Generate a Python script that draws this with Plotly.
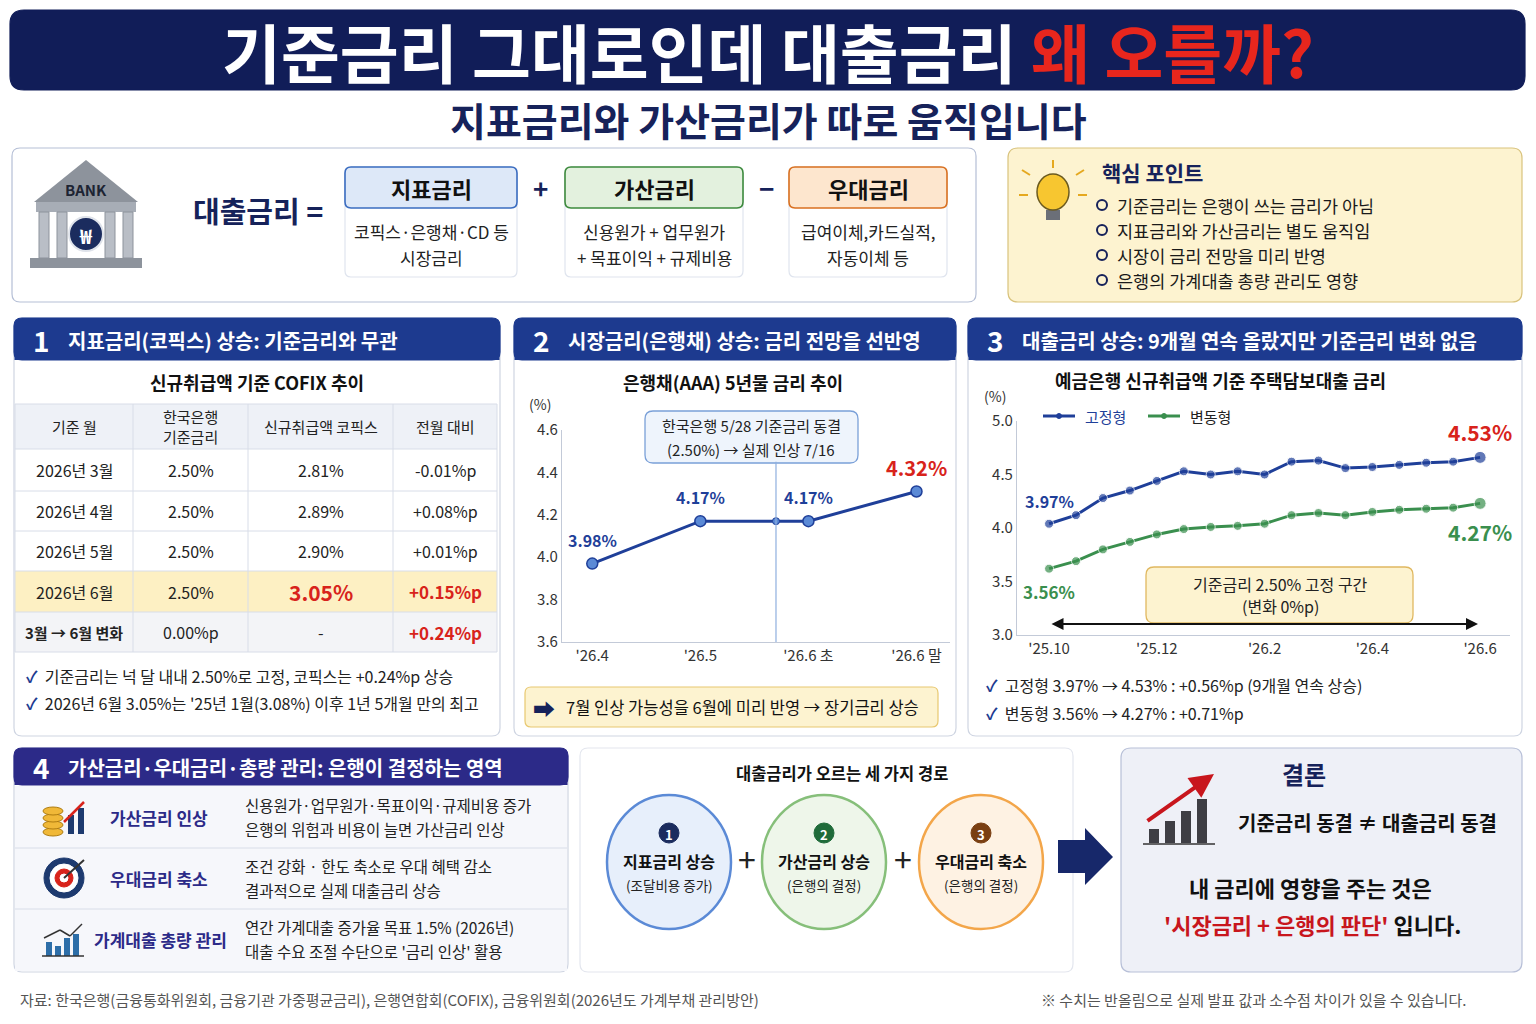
import plotly.graph_objects as go

W, H = 1536, 1024
FONT = "Noto Sans CJK KR"
NAVY = "#16225a"

# ---------------- data ----------------
bond_x = [0, 1, 2, 3]
bond_labels = ["'26.4", "'26.5", "'26.6 초", "'26.6 말"]
bond_rate = [3.97, 4.17, 4.17, 4.31]
bond_text = ["3.98%", "4.17%", "4.17%", "4.32%"]
freeze_x = 1.7
freeze_y = 4.17

mort_idx = list(range(17))
mort_tick_pos = [0, 4, 8, 12, 16]
mort_tick_text = ["'25.10", "'25.12", "'26.2", "'26.4", "'26.6"]
mort_fixed = [4.04, 4.12, 4.28, 4.35, 4.44, 4.53, 4.50, 4.53, 4.50, 4.62, 4.63, 4.56, 4.57, 4.59, 4.61, 4.62, 4.66]
mort_var = [3.62, 3.69, 3.80, 3.87, 3.94, 3.99, 4.01, 4.02, 4.04, 4.12, 4.14, 4.12, 4.15, 4.17, 4.18, 4.19, 4.23]

cofix_header = ["기준 월", "한국은행<br>기준금리", "신규취급액 코픽스", "전월 대비"]
cofix_month = ["2026년 3월", "2026년 4월", "2026년 5월", "2026년 6월", "3월 → 6월 변화"]
cofix_base = ["2.50%", "2.50%", "2.50%", "2.50%", "0.00%p"]
cofix_rate = ["2.81%", "2.89%", "2.90%", "3.05%", "-"]
cofix_diff = ["-0.01%p", "+0.08%p", "+0.01%p", "+0.15%p", "+0.24%p"]

# ---------------- helpers ----------------
def X(px): return px / W
def Y(py): return 1 - py / H

shapes, ann = [], []

def rr(x0, y0, x1, y1, r=8, fill="white", line="#c8cfdc", lw=1.2):
    p = (f"M{X(x0+r)},{Y(y0)} L{X(x1-r)},{Y(y0)} Q{X(x1)},{Y(y0)} {X(x1)},{Y(y0+r)} "
         f"L{X(x1)},{Y(y1-r)} Q{X(x1)},{Y(y1)} {X(x1-r)},{Y(y1)} L{X(x0+r)},{Y(y1)} "
         f"Q{X(x0)},{Y(y1)} {X(x0)},{Y(y1-r)} L{X(x0)},{Y(y0+r)} Q{X(x0)},{Y(y0)} {X(x0+r)},{Y(y0)} Z")
    shapes.append(dict(type="path", path=p, xref="paper", yref="paper", fillcolor=fill,
                       line=dict(color=line, width=lw), layer="below"))

def rect(x0, y0, x1, y1, fill="white", line=None, lw=1, layer="below"):
    shapes.append(dict(type="rect", xref="paper", yref="paper", x0=X(x0), x1=X(x1), y0=Y(y1), y1=Y(y0),
                       fillcolor=fill, line=dict(color=line or fill, width=lw if line else 0), layer=layer))

def line(x0, y0, x1, y1, color="#d5dae6", w=1, dash=None):
    shapes.append(dict(type="line", xref="paper", yref="paper", x0=X(x0), x1=X(x1), y0=Y(y0), y1=Y(y1),
                       line=dict(color=color, width=w, dash=dash)))

def circ(cx, cy, rx, ry, fill="white", lc="#888", lw=1):
    shapes.append(dict(type="circle", xref="paper", yref="paper", x0=X(cx-rx), x1=X(cx+rx), y0=Y(cy+ry), y1=Y(cy-ry),
                       fillcolor=fill, line=dict(color=lc, width=lw)))

def poly(pts, fill, lc=None, lw=0):
    p = "M" + " L".join(f"{X(a)},{Y(b)}" for a, b in pts) + " Z"
    shapes.append(dict(type="path", path=p, xref="paper", yref="paper", fillcolor=fill,
                       line=dict(color=lc or fill, width=lw)))

def T(px, py, s, size=15, color="#222", bold=False, anchor="center"):
    ann.append(dict(x=X(px), y=Y(py), xref="paper", yref="paper", text=f"<b>{s}</b>" if bold else s,
                    showarrow=False, xanchor=anchor, yanchor="middle",
                    font=dict(family=FONT, size=size, color=color)))

def arrow(hx, hy, tx, ty, color, w, both=False):
    d = dict(x=X(hx), y=Y(hy), xref="paper", yref="paper", axref="pixel", ayref="pixel",
             ax=tx - hx, ay=ty - hy, text="", showarrow=True, arrowhead=2, arrowsize=1.2,
             arrowwidth=w, arrowcolor=color)
    if both:
        d.update(startarrowhead=2, arrowside="end+start", startarrowsize=1.2)
    ann.append(d)

# ---------------- title ----------------
rr(10, 10, 1525, 90, r=14, fill="#111d58", line="#111d58")
T(768, 50, "기준금리 그대로인데 대출금리 <span style='color:#e8261d'>왜 오를까?</span>", 64, "white", True)
T(768, 119, "지표금리와 가산금리가 따로 움직입니다", 39, NAVY, True)

# ---------------- formula panel ----------------
rr(12, 148, 976, 302, r=8, fill="white", line="#b5bfd6")
poly([(34, 202), (86, 160), (138, 202)], "#8d939c")
T(86, 189, "BANK", 15, "#1d2433", True)
rect(36, 202, 136, 212, "#a7adb6")
for cx in (44, 62, 110, 128):
    rect(cx - 5, 212, cx + 5, 258, "#b9bec6", "#8d939c")
rect(30, 258, 142, 268, "#8d939c")
circ(86, 234, 17, 17, "#1b2c5e", "#dfe3ea", 2)
T(86, 235, "<b>₩</b>", 20, "white")
T(258, 210, "대출금리 =", 29, NAVY, True)
boxes = [(345, 517, "지표금리", "#dde8f8", "#3a6cc0", ["코픽스·은행채·CD 등", "시장금리"]),
         (565, 743, "가산금리", "#e3f1de", "#3d8a3d", ["신용원가 + 업무원가", "+ 목표이익 + 규제비용"]),
         (789, 947, "우대금리", "#fde6ce", "#d97020", ["급여이체,카드실적,", "자동이체 등"])]
for x0, x1, t, f, c, body in boxes:
    rr(x0, 167, x1, 277, r=6, fill="white", line="#dfe4ee")
    rr(x0, 167, x1, 208, r=6, fill=f, line=c, lw=1.6)
    T((x0 + x1) / 2, 188, t, 22, "#111", True)
    T((x0 + x1) / 2, 231, body[0], 17, "#222")
    T((x0 + x1) / 2, 257, body[1], 17, "#222")
T(540, 187, "+", 26, NAVY, True)
T(766, 187, "−", 26, NAVY, True)

# ---------------- key point panel ----------------
rr(1008, 148, 1522, 302, r=10, fill="#fdf3d0", line="#d9c37d")
circ(1053, 192, 16, 18, "#f7c630", "#6b5a1f", 1.5)
rect(1046, 210, 1060, 220, "#6b6f78")
for a, b, c, d in [(1030, 175, 1022, 170), (1076, 175, 1084, 170), (1053, 168, 1053, 160), (1028, 195, 1019, 195), (1078, 195, 1087, 195)]:
    line(a, b, c, d, "#e5a81f", 2)
T(1100, 172, "핵심 포인트", 21, NAVY, True, "left")
pts = ["기준금리는 은행이 쓰는 금리가 아님", "지표금리와 가산금리는 별도 움직임",
       "시장이 금리 전망을 미리 반영", "은행의 가계대출 총량 관리도 영향"]
for i, s in enumerate(pts):
    yy = 205 + 25 * i
    circ(1102, yy, 5, 5, "#fdf3d0", NAVY, 2)
    T(1115, yy, s, 17.5, "#1a1a1a", False, "left")

# ---------------- section panels ----------------
def section(x0, x1, num, title, y0=318, y1=736, hb=360, col="#1d3a8f"):
    rr(x0, y0, x1, y1, r=8, fill="white", line="#cfd5e2")
    rr(x0, y0, x1, hb, r=8, fill=col, line=col)
    rect(x0 + 0.5, hb - 10, x1 - 0.5, hb, col)
    T(x0 + 27, (y0 + hb) / 2 + 1, num, 28, "white", True)
    T(x0 + 52, (y0 + hb) / 2 + 1, title, 20, "white", True, "left")

section(14, 500, "1", "지표금리(코픽스) 상승: 기준금리와 무관")
section(514, 956, "2", "시장금리(은행채) 상승: 금리 전망을 선반영")
section(968, 1522, "3", "대출금리 상승: 9개월 연속 올랐지만 기준금리 변화 없음")

# ---- table (section 1)
T(257, 382, "신규취급액 기준 COFIX 추이", 18, "#111", True)
cols = [15, 133, 248, 393, 497]
rows = [404, 449, 491, 531, 571, 612, 652]
rect(15, 404, 497, 449, "#eef1f7")
rect(15, 571, 497, 612, "#fdf0c3")
rect(15, 612, 497, 652, "#f3f4f7")
for r in rows:
    line(15, r, 497, r, "#d8dde8", 1)
for c in cols:
    line(c, 404, c, 652, "#d8dde8", 1)
for j, h in enumerate(cofix_header):
    T((cols[j] + cols[j + 1]) / 2, 426, h, 15, "#222")
for i in range(5):
    yc = (rows[i + 1] + rows[i + 2]) / 2
    vals = [cofix_month[i], cofix_base[i], cofix_rate[i], cofix_diff[i]]
    for j, v in enumerate(vals):
        size, color, bold = 16, "#222", False
        if i == 3 and j == 2:
            size, color, bold = 21, "#d8231b", True
        elif i in (3, 4) and j == 3:
            color, bold, size = "#d8231b", True, 17
        elif i == 4 and j == 0:
            size, bold = 15, True
        T((cols[j] + cols[j + 1]) / 2, yc, v, size, color, bold)
T(24, 676, "<span style='color:#1d3a8f'><b>✓</b></span>  기준금리는 넉 달 내내 2.50%로 고정, 코픽스는 +0.24%p 상승", 16, "#222", False, "left")
T(24, 703, "<span style='color:#1d3a8f'><b>✓</b></span>  2026년 6월 3.05%는 '25년 1월(3.08%) 이후 1년 5개월 만의 최고", 16, "#222", False, "left")

# ---- section 2 decorations
T(733, 382, "은행채(AAA) 5년물 금리 추이", 18, "#111", True)
T(540, 404, "(%)", 14, "#333")
rr(645, 411, 858, 463, r=8, fill="#eef4fc", line="#7aa0d8", lw=1.3)
T(751, 425, "한국은행 5/28 기준금리 동결", 15, "#222")
T(751, 449, "(2.50%) → 실제 인상 7/16", 15, "#222")
rr(525, 687, 938, 727, r=6, fill="#fdf3d0", line="#e8c870")
T(544, 707, "<b>➡</b>", 22, NAVY)
T(564, 707, "7월 인상 가능성을 6월에 미리 반영 → 장기금리 상승", 16.5, "#111", False, "left")

# ---- section 3 decorations
T(1220, 380, "예금은행 신규취급액 기준 주택담보대출 금리", 18, "#111", True)
T(995, 396, "(%)", 14, "#333")
line(1043, 416, 1075, 416, "#1f3f99", 3)
circ(1059, 416, 2.5, 2.5, "#1f3f99", "#1f3f99")
T(1083, 416, "고정형", 15, "#1f3f99", False, "left")
line(1148, 416, 1180, 416, "#3a8f4e", 3)
circ(1164, 416, 2.5, 2.5, "#3a8f4e", "#3a8f4e")
T(1188, 416, "변동형", 15, "#222", False, "left")
rr(1146, 567, 1413, 623, r=8, fill="#fdf3d0", line="#e0b860", lw=1.3)
T(1280, 584, "기준금리 2.50% 고정 구간", 16, "#222")
T(1280, 606, "(변화 0%p)", 16, "#222")
arrow(1478, 624, 1050, 624, "#111", 2, both=True)
T(984, 685, "<span style='color:#1d3a8f'><b>✓</b></span>  고정형 3.97% → 4.53% : +0.56%p (9개월 연속 상승)", 16, "#222", False, "left")
T(984, 713, "<span style='color:#1d3a8f'><b>✓</b></span>  변동형 3.56% → 4.27% : +0.71%p", 16, "#222", False, "left")

# ---------------- section 4 ----------------
rr(14, 748, 568, 972, r=8, fill="white", line="#cfd5e2")
rr(14, 748, 568, 785, r=8, fill="#2c2a88", line="#2c2a88")
rect(14.5, 777, 567.5, 785, "#2c2a88")
T(41, 767, "4", 28, "white", True)
T(66, 767, "가산금리·우대금리·총량 관리: 은행이 결정하는 영역", 20, "white", True, "left")
rect(15, 786, 567, 971, "#f6f7fb")
line(15, 848, 567, 848, "#d8dde8")
line(15, 909, 567, 909, "#d8dde8")
items = [(817, "가산금리 인상", 159, ["신용원가·업무원가·목표이익·규제비용 증가", "은행의 위험과 비용이 늘면 가산금리 인상"]),
         (878, "우대금리 축소", 159, ["조건 강화 · 한도 축소로 우대 혜택 감소", "결과적으로 실제 대출금리 상승"]),
         (939, "가계대출 총량 관리", 160, ["연간 가계대출 증가율 목표 1.5% (2026년)", "대출 수요 조절 수단으로 '금리 인상' 활용"])]
for yc, lab, lx, body in items:
    T(lx, yc, lab, 17, "#2c2a88", True)
    T(243, yc - 12, body[0], 15.5, "#222", False, "left")
    T(243, yc + 12, body[1], 15.5, "#222", False, "left")
for k in range(4):
    circ(53, 832 - 7 * k, 10, 4, "#f0b838", "#b07d10", 1)
rect(68, 815, 74, 834, "#1d3a6f"); rect(78, 808, 84, 834, "#1d3a6f")
line(64, 822, 84, 802, "#d8231b", 2.5)
circ(64, 878, 20, 20, "#1d3a6f", "#1d3a6f"); circ(64, 878, 14, 14, "white", "white")
circ(64, 878, 9, 9, "#d8231b", "#d8231b"); circ(64, 878, 4, 4, "white", "white")
line(64, 878, 84, 860, "#333", 2)
for k, hh in enumerate([14, 10, 18, 22]):
    rect(46 + 9 * k, 956 - hh, 52 + 9 * k, 956, "#2d6ea8")
line(42, 956, 84, 956, "#333", 1.5)
line(44, 938, 60, 930, "#333", 1.5); line(60, 930, 70, 936, "#333", 1.5); line(70, 936, 82, 924, "#333", 1.5)

# ---------------- middle paths ----------------
rr(580, 748, 1073, 972, r=8, fill="white", line="#e3e6ee")
T(842, 773, "대출금리가 오르는 세 가지 경로", 16.5, "#111", True)
paths = [(669, "#e7effb", "#5b8ad6", "#1b2c5e", "1", "지표금리 상승", "(조달비용 증가)"),
         (824, "#eef6ea", "#86bf7a", "#1f6b3a", "2", "가산금리 상승", "(은행의 결정)"),
         (981, "#fef2e3", "#f3a64a", "#7a3f12", "3", "우대금리 축소", "(은행의 결정)")]
for cx, f, lc, nc, n, a, b in paths:
    circ(cx, 862, 62, 67, f, lc, 2.5)
    circ(cx, 833, 10, 10, nc, nc)
    T(cx, 834, n, 13, "white", True)
    T(cx, 861, a, 16, "#111", True)
    T(cx, 885, b, 13.5, "#222")
T(747, 858, "+", 32, "#222")
T(903, 858, "+", 32, "#222")
poly([(1058, 840), (1085, 840), (1085, 828), (1113, 857), (1085, 885), (1085, 873), (1058, 873)], "#17286a")

# ---------------- conclusion ----------------
rr(1121, 748, 1522, 972, r=10, fill="#eef0f7", line="#b8c0d8")
T(1304, 773, "결론", 24, NAVY, True)
for k, hh in enumerate([14, 22, 32, 44]):
    rect(1149 + 16 * k, 843 - hh, 1159 + 16 * k, 843, "#3e3e44")
line(1143, 844, 1215, 844, "#333", 1.5)
arrow(1214, 774, 1146, 822, "#c8161d", 4)
T(1367, 822, "기준금리 동결 ≠ 대출금리 동결", 20, "#111", True)
T(1310, 887, "내 금리에 영향을 주는 것은", 22, "#111", True)
T(1312, 924, "<span style='color:#c8161d'>'시장금리 + 은행의 판단'</span> 입니다.", 22, "#111", True)

# ---------------- footer ----------------
T(18, 999, "자료: 한국은행(금융통화위원회, 금융기관 가중평균금리), 은행연합회(COFIX), 금융위원회(2026년도 가계부채 관리방안)", 15, "#555", False, "left")
T(1468, 999, "※ 수치는 반올림으로 실제 발표 값과 소수점 차이가 있을 수 있습니다.", 15, "#555", False, "right")

# ---------------- charts ----------------
fig = go.Figure()
BLUE, GREEN = "#1f3f99", "#3a8f4e"
fig.add_trace(go.Scatter(x=bond_x, y=bond_rate, mode="lines+markers", line=dict(color=BLUE, width=3),
                         marker=dict(size=11, color="#5b8ad6", line=dict(color=BLUE, width=1.5)),
                         xaxis="x", yaxis="y", hoverinfo="skip"))
fig.add_trace(go.Scatter(x=[freeze_x], y=[freeze_y], mode="markers", marker=dict(size=7, color="#5b8ad6", line=dict(color=BLUE, width=1)),
                         xaxis="x", yaxis="y", hoverinfo="skip"))
fig.add_trace(go.Scatter(x=mort_idx, y=mort_fixed, mode="lines+markers", line=dict(color=BLUE, width=3),
                         marker=dict(size=[9] * 16 + [12], color=BLUE), xaxis="x2", yaxis="y2", hoverinfo="skip"))
fig.add_trace(go.Scatter(x=mort_idx, y=mort_var, mode="lines+markers", line=dict(color=GREEN, width=3),
                         marker=dict(size=[9] * 16 + [12], color=GREEN), xaxis="x2", yaxis="y2", hoverinfo="skip"))

for xv, yv, t, c in zip(bond_x, bond_rate, bond_text, [BLUE, BLUE, BLUE, "#d8231b"]):
    ann.append(dict(x=xv, y=yv, xref="x", yref="y", text=f"<b>{t}</b>", showarrow=False, yshift=24,
                    font=dict(family=FONT, size=16 if c == BLUE else 20, color=c)))
shapes.append(dict(type="line", xref="x", yref="y", x0=freeze_x, x1=freeze_x, y0=3.6, y1=4.45,
                   line=dict(color="#8fb0df", width=1.2)))
for xv, yv, t, c, s, dy in [(0, mort_fixed[0], "3.97%", BLUE, 16, 23), (0, mort_var[0], "3.56%", GREEN, 17, -23),
                            (16, mort_fixed[16], "4.53%", "#d8231b", 21, 25), (16, mort_var[16], "4.27%", GREEN, 21, -29)]:
    ann.append(dict(x=xv, y=yv, xref="x2", yref="y2", text=f"<b>{t}</b>", showarrow=False, yshift=dy,
                    font=dict(family=FONT, size=s, color=c)))

ax_common = dict(showgrid=False, zeroline=False, showline=True, linecolor="#c3cad8", linewidth=1.2,
                 tickfont=dict(family=FONT, size=15, color="#333"), ticks="", fixedrange=True)
fig.update_layout(
    width=W, height=H, margin=dict(l=0, r=0, t=0, b=0, pad=0, autoexpand=False),
    paper_bgcolor="white", plot_bgcolor="rgba(0,0,0,0)",
    showlegend=False, shapes=shapes, annotations=ann, font=dict(family=FONT),
    xaxis=dict(domain=[X(562), X(950)], range=[-0.28, 3.31], anchor="y", tickvals=bond_x, ticktext=bond_labels, **ax_common),
    yaxis=dict(domain=[Y(642), Y(430)], range=[3.6, 4.6], anchor="x", dtick=0.2, tickformat=".1f", **ax_common),
    xaxis2=dict(domain=[X(1017), X(1510)], range=[-1.19, 17.11], anchor="y2", tickvals=mort_tick_pos, ticktext=mort_tick_text, **ax_common),
    yaxis2=dict(domain=[Y(635), Y(421)], range=[3.0, 5.0], anchor="x2", dtick=0.5, tickformat=".1f", **ax_common),
)
fig.write_html("out.html", config={"displayModeBar": False})
with open("out.html", encoding="utf-8") as fh:
    html = fh.read()
html = html.replace("<head>", "<head><style>html,body{margin:0;padding:0;overflow:hidden;}"
                    ".plotly-graph-div{position:fixed!important;top:0;left:0;}</style>", 1)
with open("out.html", "w", encoding="utf-8") as fh:
    fh.write(html)
